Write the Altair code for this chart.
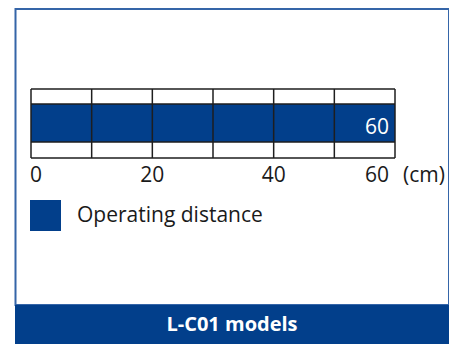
import altair as alt
import pandas as pd

# ---- data ----
categories = ["Operating distance"]
distance_values = [60]
tick_values = [0, 20, 40, 60]
grid_columns = [0, 10, 20, 30, 40, 50, 60]
unit_label = ["(cm)"]
title_text = ["L-C01 models"]

BLUE = "#023f8b"
BORDER = "#3565a8"
LINE = "#1e1e1e"
FONT = "Open Sans"

xscale = alt.Scale(domain=[0, 60], range=[23, 387])

bar_df = pd.DataFrame({"series": categories, "start": [0] * len(categories), "end": distance_values})
grid_df = pd.DataFrame({"x": grid_columns})
tick_df = pd.DataFrame({"x": tick_values, "label": [str(v) for v in tick_values]})
unit_df = pd.DataFrame({"x": [max(tick_values)], "u": unit_label})
title_df = pd.DataFrame({"t": title_text})
one = pd.DataFrame({"a": [0]})

frame = alt.Chart(one).mark_rect(fill="white", stroke=BORDER, strokeWidth=2).encode(
    x=alt.value(7.5), x2=alt.value(441), y=alt.value(1), y2=alt.value(297)
)
band = alt.Chart(one).mark_rect(fill=BLUE).encode(
    x=alt.value(7), x2=alt.value(442), y=alt.value(297), y2=alt.value(336)
)

bar = alt.Chart(bar_df).mark_rect().encode(
    x=alt.X("start:Q", scale=xscale, axis=None),
    x2="end:Q",
    y=alt.value(96),
    y2=alt.value(134),
    color=alt.Color(
        "series:N",
        scale=alt.Scale(domain=categories, range=[BLUE]),
        legend=alt.Legend(
            orient="none", legendX=22, legendY=192, title=None,
            symbolType="square", symbolSize=961, symbolStrokeWidth=0,
            symbolOpacity=1,
            labelFontSize=21, labelFont=FONT, labelColor="#1a1a1a",
            labelOffset=16, labelLimit=0, padding=0,
        ),
    ),
)

vlines = alt.Chart(grid_df).mark_rule(color=LINE, strokeWidth=1.5).encode(
    x=alt.X("x:Q", scale=xscale, axis=None), y=alt.value(81), y2=alt.value(150)
)
span_df = pd.DataFrame({"s": [min(grid_columns)], "e": [max(grid_columns)]})
hlines = [
    alt.Chart(span_df).mark_rule(color=LINE, strokeWidth=1.5).encode(
        x=alt.X("s:Q", scale=xscale, axis=None), x2="e:Q", y=alt.value(yv)
    )
    for yv in [81, 96, 134, 150]
]

bar_label = alt.Chart(bar_df).mark_text(
    align="right", dx=-6, baseline="alphabetic", fontSize=21, color="white", font=FONT
).encode(x=alt.X("end:Q", scale=xscale), y=alt.value(126), text="end:Q")

tick_base = alt.Chart(tick_df)
tick_style = dict(baseline="alphabetic", fontSize=21, color="#1a1a1a", font=FONT)
t_first = tick_base.mark_text(align="left", dx=-1, **tick_style).encode(
    x=alt.X("x:Q", scale=xscale), y=alt.value(174), text="label:N"
).transform_filter(alt.datum.x == min(tick_values))
t_mid = tick_base.mark_text(align="center", **tick_style).encode(
    x=alt.X("x:Q", scale=xscale), y=alt.value(174), text="label:N"
).transform_filter((alt.datum.x > min(tick_values)) & (alt.datum.x < max(tick_values)))
t_last = tick_base.mark_text(align="right", dx=-6, **tick_style).encode(
    x=alt.X("x:Q", scale=xscale), y=alt.value(174), text="label:N"
).transform_filter(alt.datum.x == max(tick_values))
unit = alt.Chart(unit_df).mark_text(align="left", dx=8, **tick_style).encode(
    x=alt.X("x:Q", scale=xscale), y=alt.value(174), text="u:N"
)

title = alt.Chart(title_df).mark_text(
    align="center", baseline="middle", fontSize=20, fontWeight="bold", color="white", font=FONT
).encode(x=alt.value(224), y=alt.value(317), text="t:N")

chart = alt.layer(
    frame, band, bar, vlines, *hlines, bar_label, t_first, t_mid, t_last, unit, title
).properties(
    width=441, height=336, autosize=alt.AutoSizeParams(type="none"), padding=0
).configure_view(strokeWidth=0)

chart.save("out.html", embed_options={"renderer": "svg", "actions": False})
